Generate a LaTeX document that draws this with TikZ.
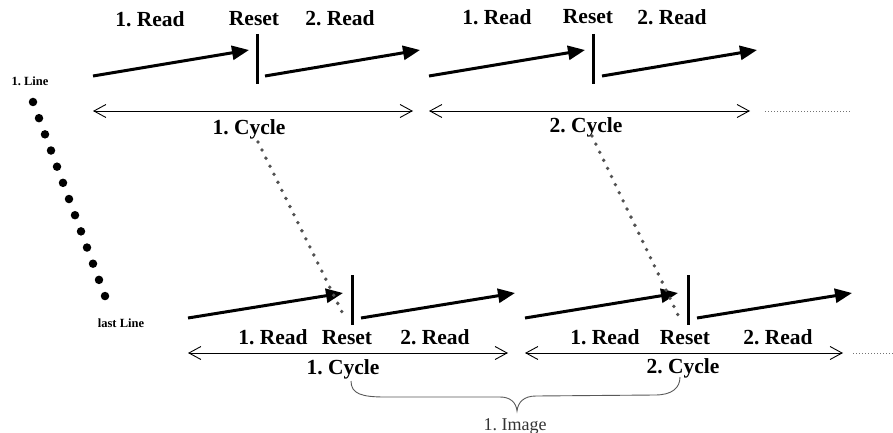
\documentclass[tikz,border=0pt]{standalone}
\usepackage{fontspec}
\setmainfont{Liberation Serif}
\usetikzlibrary{arrows.meta}
\begin{document}
\frenchspacing
\begin{tikzpicture}[x=1pt,y=-1pt,
  lbl/.style={font=\fontsize{21.5}{24}\selectfont\bfseries, anchor=base, inner sep=0pt},
  small/.style={font=\fontsize{12.5}{14}\selectfont\bfseries, anchor=base, inner sep=0pt},
  readarrow/.style={line width=3pt, -{Triangle[length=17pt,width=14pt]}},
  resetbar/.style={line width=3pt},
  cyclearrow/.style={line width=0.9pt, {Straight Barb[length=12pt,width=13pt,line width=0.9pt]}-{Straight Barb[length=12pt,width=13pt,line width=0.9pt]}},
  linkdots/.style={line width=3.8pt, color=black!68, line cap=round, dash pattern=on 0pt off 9pt},
  morefine/.style={line width=0.8pt, color=black!55, dash pattern=on 1.2pt off 1.8pt},
  bigdot/.style={circle, fill=black, inner sep=0pt, minimum size=8.5pt},
]
\useasboundingbox (0,0) rectangle (893,433);

% ---------- top row ----------
% cycle 1
\coordinate (t1a) at (93,76);  \coordinate (t1b) at (249,50);
\coordinate (t1r1) at (257,34); \coordinate (t1r2) at (257,84);
\coordinate (t1c) at (265,76); \coordinate (t1d) at (420,50);
\coordinate (t1l) at (93,111); \coordinate (t1r) at (413,111);
\draw[readarrow] (t1a) -- (t1b);
\draw[resetbar] (t1r1) -- (t1r2);
\draw[readarrow] (t1c) -- (t1d);
\draw[cyclearrow] (t1l) -- (t1r);
\node[lbl] (t1read1) at (150,27) {1. Read};
\node[lbl] (t1reset) at (254,26) {Reset};
\node[lbl] (t1read2) at (340,26) {2. Read};
\node[lbl] (t1cyc) at (249,135) {1. Cycle};
% cycle 2
\coordinate (t2a) at (429,76);  \coordinate (t2b) at (585,50);
\coordinate (t2r1) at (593,34); \coordinate (t2r2) at (593,84);
\coordinate (t2c) at (602,76); \coordinate (t2d) at (757,50);
\coordinate (t2l) at (429,111); \coordinate (t2r) at (750,111);
\draw[readarrow] (t2a) -- (t2b);
\draw[resetbar] (t2r1) -- (t2r2);
\draw[readarrow] (t2c) -- (t2d);
\draw[cyclearrow] (t2l) -- (t2r);
\node[lbl] (t2read1) at (497,25) {1. Read};
\node[lbl] (t2reset) at (588,24) {Reset};
\node[lbl] (t2read2) at (672,25) {2. Read};
\node[lbl] (t2cyc) at (586,132) {2. Cycle};
\coordinate (tm1) at (765,111); \coordinate (tm2) at (850,111);
\draw[morefine] (tm1) -- (tm2);

% ---------- lines column ----------
\node[small] (firstline) at (30,86) {1. Line};
\foreach \i in {0,...,12}
  \node[bigdot] (d\i) at ({33+6*\i},{102+16.17*\i}) {};
\node[small] (lastline) at (121,327) {last Line};

% ---------- bottom row ----------
% cycle 1
\coordinate (b1a) at (188,318);  \coordinate (b1b) at (343,293);
\coordinate (b1r1) at (352,275); \coordinate (b1r2) at (352,325);
\coordinate (b1c) at (361,318); \coordinate (b1d) at (515,293);
\coordinate (b1l) at (188,353); \coordinate (b1r) at (508,353);
\draw[readarrow] (b1a) -- (b1b);
\draw[resetbar] (b1r1) -- (b1r2);
\draw[readarrow] (b1c) -- (b1d);
\draw[cyclearrow] (b1l) -- (b1r);
\node[lbl] (b1read1) at (273,344) {1. Read};
\node[lbl] (b1reset) at (347,344) {Reset};
\node[lbl] (b1read2) at (435,344) {2. Read};
\node[lbl] (b1cyc) at (343,374) {1. Cycle};
% cycle 2
\coordinate (b2a) at (525,318);  \coordinate (b2b) at (678,293);
\coordinate (b2r1) at (688,275); \coordinate (b2r2) at (688,325);
\coordinate (b2c) at (697,318); \coordinate (b2d) at (852,293);
\coordinate (b2l) at (525,353); \coordinate (b2r) at (843,353);
\draw[readarrow] (b2a) -- (b2b);
\draw[resetbar] (b2r1) -- (b2r2);
\draw[readarrow] (b2c) -- (b2d);
\draw[cyclearrow] (b2l) -- (b2r);
\node[lbl] (b2read1) at (605,344) {1. Read};
\node[lbl] (b2reset) at (685,344) {Reset};
\node[lbl] (b2read2) at (778,344) {2. Read};
\node[lbl] (b2cyc) at (683,373) {2. Cycle};
\coordinate (bm1) at (853,353); \coordinate (bm2) at (893,353);
\draw[morefine] (bm1) -- (bm2);

% ---------- links between cycles ----------
\coordinate (l1s) at (258,142); \coordinate (l1e) at (344,316);
\coordinate (l2s) at (592,136); \coordinate (l2e) at (678,315);
\draw[linkdots] (l1s) -- (l1e);
\draw[linkdots] (l2s) -- (l2e);

% ---------- image brace ----------
\draw[black!65, line width=0.9pt]
  (351,381) .. controls (351,394) and (362,397) .. (385,397)
  -- (500,397) .. controls (510,397) and (516,402) .. (517,411)
  .. controls (518,402) and (524,396) .. (536,396)
  -- (655,395) .. controls (672,395) and (680,388) .. (680,377);
\node[font=\fontsize{18}{20}\selectfont, text=black!80, anchor=base, inner sep=0pt] (img) at (515,430) {1. Image};
\end{tikzpicture}
\end{document}
